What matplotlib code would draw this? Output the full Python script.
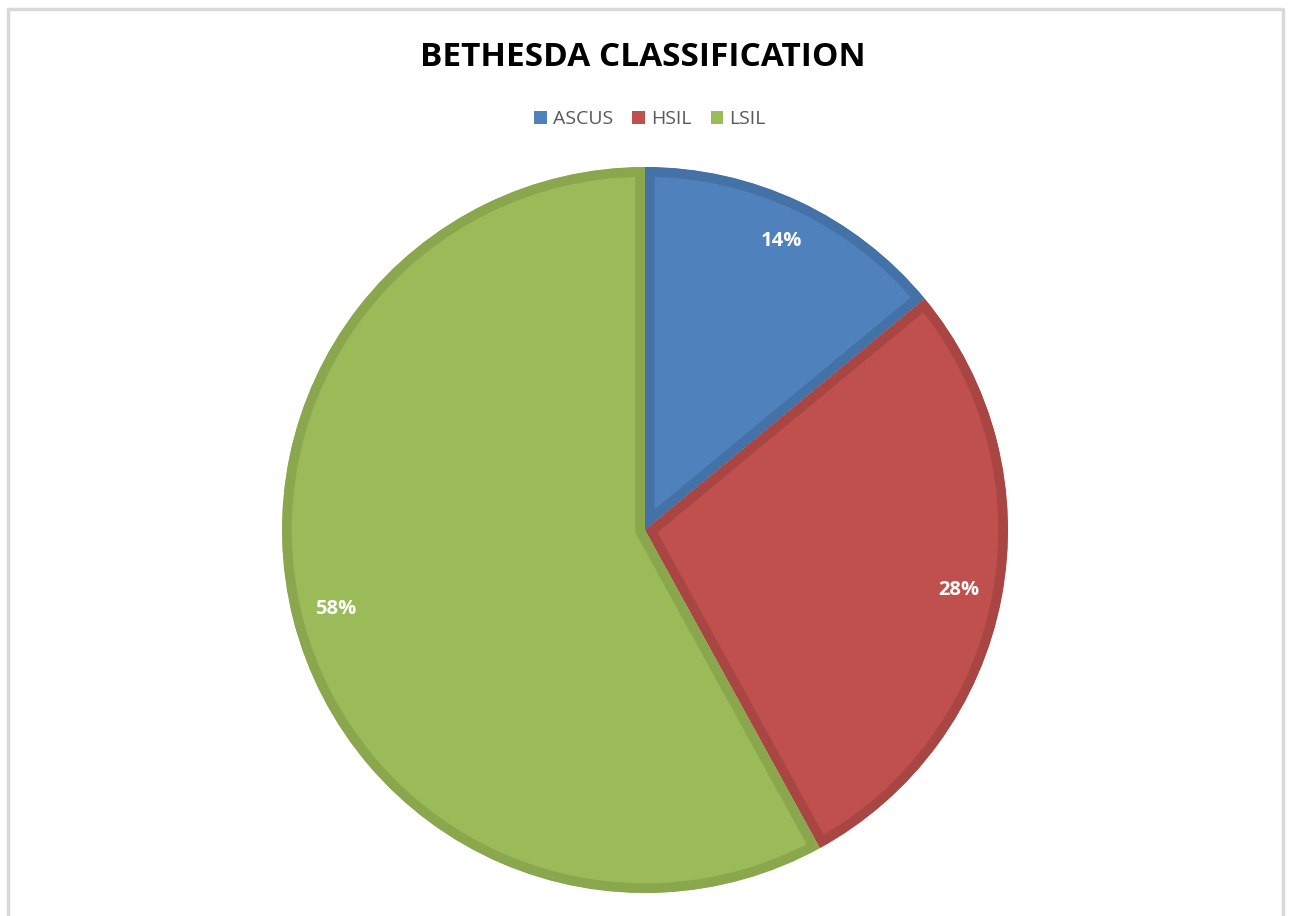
#pie chart of bethesda classification results

import matplotlib.pyplot as plt
from matplotlib.patches import Patch, Wedge

labels = ["ASCUS", "HSIL", "LSIL"]
values = [14, 28, 58]
fill_colors = ["#4F81BD", "#C0504D", "#9BBB59"]
edge_colors = ["#4472A6", "#A94643", "#8AA74E"]

fig = plt.figure(figsize=(12.9, 9.16), dpi=100)
W, H = 1290.0, 916.0

# grey chart frame like the excel chart area
frame = plt.Line2D([8 / W, 8 / W, 1283 / W, 1283 / W], [0, 1 - 9 / H, 1 - 9 / H, 0],
                   transform=fig.transFigure, color="#D9D9D9", lw=2.5)
fig.add_artist(frame)

# pie axes, centre at (645, 530) px with radius 363 px
cx, cy, r = 645, 530, 363
ax = fig.add_axes([(cx - r) / W, (H - cy - r) / H, 2 * r / W, 2 * r / H])
wedges, texts, autotexts = ax.pie(values, colors=fill_colors, startangle=90, counterclock=False,
                                  autopct="%1.0f%%", pctdistance=0.88, radius=1.0,
                                  wedgeprops=dict(linewidth=14))
for w, ec in zip(wedges, edge_colors):
    w.set_edgecolor(ec)
    # clip the border with a copy of the slice so it only shows inside
    clip = Wedge(w.center, w.r, w.theta1, w.theta2, transform=ax.transData)
    w.set_clip_on(True)
    w.set_clip_path(clip)
for t in autotexts:
    t.set_color("white")
    t.set_fontweight("bold")
    t.set_fontsize(14.5)
    t.set_fontfamily("Open Sans")
ax.set_xlim(-1, 1)
ax.set_ylim(-1, 1)
ax.set_aspect("equal")
ax.axis("off")

fig.text(643 / W, 1 - 57 / H, "BETHESDA CLASSIFICATION", ha="center", va="center",
         fontsize=24, fontweight="bold", family="Open Sans", color="black")

handles = [Patch(facecolor=c, edgecolor="none") for c in fill_colors]
fig.legend(handles, labels, loc="center", bbox_to_anchor=(650 / W, 1 - 119 / H), ncol=3,
           frameon=False, handlelength=0.65, handleheight=0.65, handletextpad=0.3,
           columnspacing=1.0, prop={"family": "Open Sans", "size": 14},
           labelcolor="#595959")

fig.savefig("out.png", dpi=100)
